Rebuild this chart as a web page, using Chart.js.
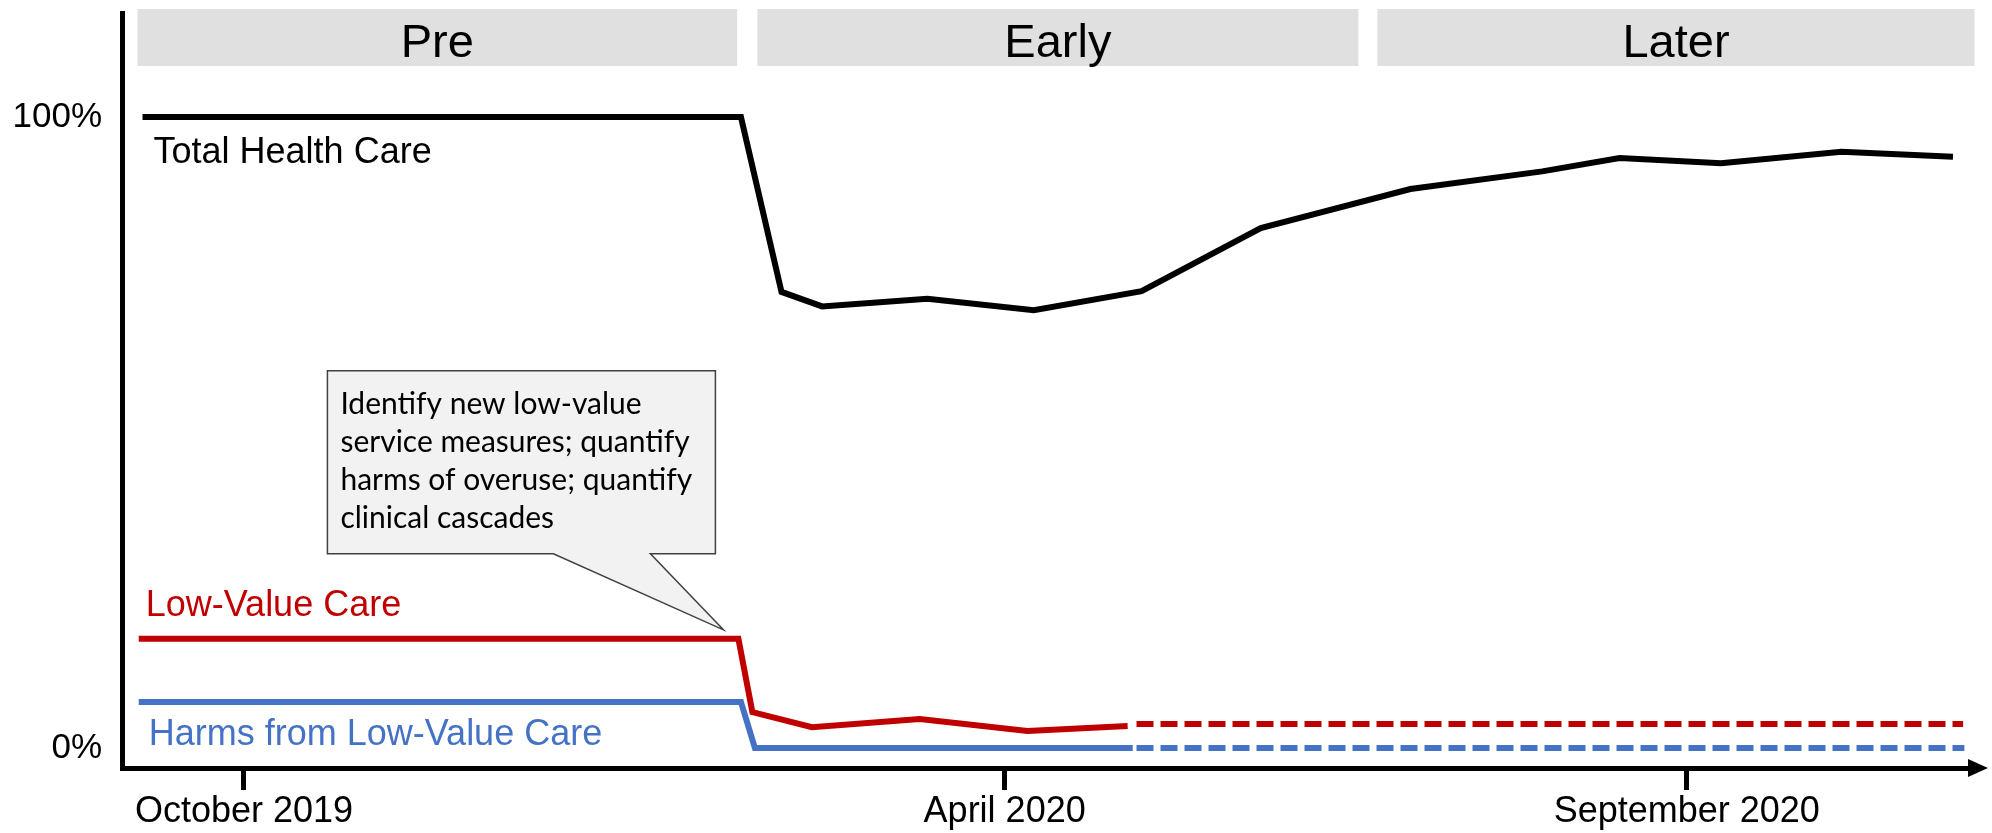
<!DOCTYPE html>
<html>
<head>
<meta charset="utf-8">
<script src="https://cdn.jsdelivr.net/npm/chart.js@4"></script>
<style>
  body { margin: 0; background: #fff; }
</style>
</head>
<body>
<canvas id="careChart" width="1992" height="833"></canvas>
<script>
// x values are months since October 2019 (schematic axis)
const tickMonths = [0, 6, 11.38];
const tickLabels = ["October 2019", "April 2020", "September 2020"];
const yTicks = [0, 100];

const periodNames = ["Pre", "Early", "Later"];
const periodStart = [-0.84, 4.05, 8.94];
const periodEnd = [3.89, 8.79, 13.65];

const totalX = [-0.8, 3.92, 4.24, 4.56, 5.39, 6.23, 7.08, 8.02, 9.2, 10.24, 10.85, 11.65, 12.6, 13.48];
const totalY = [100, 100, 72.3, 70.0, 71.2, 69.4, 72.4, 82.4, 88.6, 91.4, 93.5, 92.7, 94.5, 93.7];

const lowValueX = [-0.83, 3.9, 4.01, 4.48, 5.33, 6.18, 6.97];
const lowValueY = [17.3, 17.3, 5.7, 3.3, 4.6, 2.7, 3.5];
const lowValueProjX = [7.04, 13.56];
const lowValueProjY = [3.8, 3.8];

const harmsX = [-0.83, 3.92, 4.03, 7.01];
const harmsY = [7.3, 7.3, 0, 0];
const harmsProjX = [7.04, 13.57];
const harmsProjY = [0, 0];

const calloutLines = [
  "Identify new low-value",
  "service measures; quantify",
  "harms of overuse; quantify",
  "clinical cascades",
];

const RED = "#c00000";
const BLUE = "#4472c4";
const SANS = "'Liberation Sans', Arial, sans-serif";

const toPoints = (xs, ys) => xs.map((x, i) => ({ x: x, y: ys[i] }));

Chart.defaults.font.family = SANS;
Chart.defaults.color = "#000";

// period bands across the top
const bandsPlugin = {
  id: "bands",
  afterDraw(chart) {
    const { ctx, chartArea, scales } = chart;
    ctx.save();
    periodNames.forEach((name, i) => {
      const x0 = scales.x.getPixelForValue(periodStart[i]);
      const x1 = scales.x.getPixelForValue(periodEnd[i]);
      ctx.fillStyle = "#e0e0e0";
      ctx.fillRect(x0, chartArea.top - 4, x1 - x0, 57);
      ctx.fillStyle = "#000";
      ctx.font = "47px " + SANS;
      ctx.textAlign = "center";
      ctx.textBaseline = "middle";
      ctx.fillText(name, (x0 + x1) / 2, chartArea.top + 31);
    });
    ctx.restore();
  },
};

// series names written next to the lines
const seriesLabelPlugin = {
  id: "seriesLabels",
  afterDatasetsDraw(chart) {
    const { ctx, scales } = chart;
    const items = [
      { text: "Total Health Care", color: "#000", x: totalX[0], y: totalY[0], dx: 11, dy: 36 },
      { text: "Low-Value Care", color: RED, x: lowValueX[0], y: lowValueY[0], dx: 7, dy: -33 },
      { text: "Harms from Low-Value Care", color: BLUE, x: harmsX[0], y: harmsY[0], dx: 10, dy: 33 },
    ];
    ctx.save();
    ctx.font = "36px " + SANS;
    ctx.textAlign = "left";
    ctx.textBaseline = "middle";
    items.forEach((it) => {
      ctx.fillStyle = it.color;
      ctx.fillText(it.text, scales.x.getPixelForValue(it.x) + it.dx, scales.y.getPixelForValue(it.y) + it.dy);
    });
    ctx.restore();
  },
};

// speech-bubble note pointing at the start of the drop in low-value care
const calloutPlugin = {
  id: "callout",
  afterDatasetsDraw(chart) {
    const { ctx, scales } = chart;
    const tipX = scales.x.getPixelForValue(lowValueX[1]) - 15;
    const tipY = scales.y.getPixelForValue(lowValueY[1]) - 9;
    const left = tipX - 396, right = tipX - 8, top = tipY - 259, bottom = tipY - 76;
    ctx.save();
    ctx.beginPath();
    ctx.moveTo(left, top);
    ctx.lineTo(right, top);
    ctx.lineTo(right, bottom);
    ctx.lineTo(tipX - 73, bottom);
    ctx.lineTo(tipX, tipY);
    ctx.lineTo(tipX - 170, bottom);
    ctx.lineTo(left, bottom);
    ctx.closePath();
    ctx.fillStyle = "#f2f2f2";
    ctx.fill();
    ctx.strokeStyle = "#404040";
    ctx.lineWidth = 1.5;
    ctx.stroke();
    ctx.fillStyle = "#000";
    ctx.font = "30px Lato, 'Open Sans', sans-serif";
    ctx.textAlign = "left";
    ctx.textBaseline = "middle";
    calloutLines.forEach((line, i) => {
      ctx.fillText(line, left + 13, top + 33 + i * 38);
    });
    ctx.restore();
  },
};

// arrow head at the end of the time axis
const arrowPlugin = {
  id: "arrow",
  afterDraw(chart) {
    const { ctx, chartArea } = chart;
    const x = chartArea.right, y = chartArea.bottom;
    ctx.save();
    ctx.fillStyle = "#000";
    ctx.beginPath();
    ctx.moveTo(x - 4, y - 9);
    ctx.lineTo(x + 16, y);
    ctx.lineTo(x - 4, y + 9);
    ctx.closePath();
    ctx.fill();
    ctx.restore();
  },
};

const lineStyle = {
  fill: false,
  tension: 0,
  pointRadius: 0,
  borderWidth: 6,
  borderCapStyle: "butt",
  borderJoinStyle: "miter",
};

new Chart(document.getElementById("careChart"), {
  type: "line",
  data: {
    datasets: [
      { ...lineStyle, label: "Total Health Care", data: toPoints(totalX, totalY), borderColor: "#000" },
      { ...lineStyle, label: "Low-Value Care", data: toPoints(lowValueX, lowValueY), borderColor: RED },
      { ...lineStyle, label: "Low-Value Care (projected)", data: toPoints(lowValueProjX, lowValueProjY), borderColor: RED, borderDash: [17, 7] },
      { ...lineStyle, label: "Harms from Low-Value Care", data: toPoints(harmsX, harmsY), borderColor: BLUE },
      { ...lineStyle, label: "Harms (projected)", data: toPoints(harmsProjX, harmsProjY), borderColor: BLUE, borderDash: [17, 7] },
    ],
  },
  options: {
    responsive: false,
    animation: false,
    layout: { padding: { top: 13, right: 20, left: 0, bottom: 0 } },
    plugins: {
      legend: { display: false },
      tooltip: { enabled: false },
    },
    scales: {
      x: {
        type: "linear",
        min: -0.962,
        max: 13.63,
        afterFit: (scale) => {
          scale.height = 65;
          scale.paddingLeft = 0;
          scale.paddingRight = 0;
        },
        afterBuildTicks: (scale) => { scale.ticks = tickMonths.map((v) => ({ value: v })); },
        border: { display: true, color: "#000", width: 5 },
        grid: { display: true, drawOnChartArea: false, drawTicks: true, tickLength: 22, tickWidth: 5, tickColor: "#000" },
        ticks: {
          padding: 0,
          maxRotation: 0,
          font: { size: 36 },
          color: "#000",
          callback: (value, index) => tickLabels[index],
        },
      },
      y: {
        type: "linear",
        min: -3.17,
        max: 116.5,
        afterFit: (scale) => {
          scale.width = 122;
          scale.paddingTop = 0;
          scale.paddingBottom = 0;
        },
        afterBuildTicks: (scale) => { scale.ticks = yTicks.map((v) => ({ value: v })); },
        border: { display: true, color: "#000", width: 5 },
        grid: { display: false, drawTicks: false },
        ticks: {
          padding: 20,
          font: { size: 35 },
          color: "#000",
          callback: (value) => value + "%",
        },
      },
    },
  },
  plugins: [bandsPlugin, seriesLabelPlugin, calloutPlugin, arrowPlugin],
});
</script>
</body>
</html>
